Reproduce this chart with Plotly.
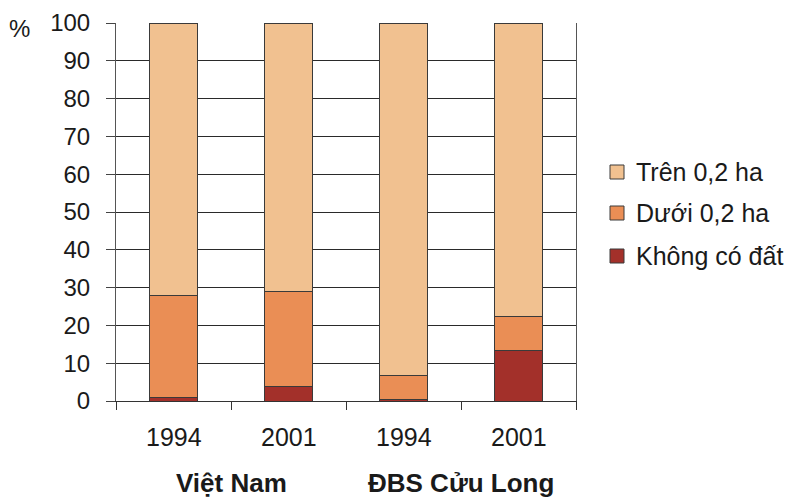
import plotly.graph_objects as go

years = ["1994", "2001", "1994", "2001"]
groups = ["Việt Nam", "ĐBS Cửu Long"]
khong_co_dat = [1.0, 3.8, 0.5, 13.3]
duoi_02 = [27.0, 25.2, 6.2, 9.0]
tren_02 = [72.0, 71.0, 93.3, 77.7]
series_names = ["Không có đất", "Dưới 0,2 ha", "Trên 0,2 ha"]
colors = ["#A3302A", "#EA8E55", "#F1C190"]

x = list(range(len(years)))
FONT = "Liberation Sans, Arial, sans-serif"
TXT = "#1a1a1a"
EDGE = "#3a3a3a"
W, H = 786, 499
ML, MR, MT, MB = 116, 210, 23, 98
PW, PH = W - ML - MR, H - MT - MB

fig = go.Figure()
for name, vals, col in zip(series_names, [khong_co_dat, duoi_02, tren_02], colors):
    fig.add_trace(go.Bar(
        x=x, y=vals, name=name, showlegend=False,
        marker=dict(color=col, line=dict(color=EDGE, width=1)),
        width=0.42,
    ))

fig.update_layout(
    width=W, height=H,
    margin=dict(l=ML, r=MR, t=MT, b=MB, autoexpand=False),
    barmode="stack",
    plot_bgcolor="white", paper_bgcolor="white",
    font=dict(family=FONT, size=24, color=TXT),
    showlegend=False,
    xaxis=dict(
        range=[-0.5, 3.5], tickvals=[-0.5, 0.5, 1.5, 2.5, 3.5],
        showticklabels=False, ticks="outside", ticklen=8, tickcolor="#333",
        showline=True, linecolor="#333", linewidth=1, showgrid=False, zeroline=False,
    ),
    yaxis=dict(
        range=[0, 100], dtick=10, tick0=0,
        ticks="outside", ticklen=9, tickcolor="#444",
        showline=True, linecolor="#555", linewidth=1, mirror=True,
        showgrid=True, gridcolor="#2a2a2a", gridwidth=1, zeroline=False,
        tickfont=dict(size=24, family=FONT, color=TXT),
        ticklabelstandoff=11,
    ),
)

def px_x(p):
    return (p - ML) / PW

def px_y(p):
    return (H - MB - p) / PH

# legend (top to bottom: Trên, Dưới, Không)
legend_y = [172, 213, 256]
for (name, col), ly in zip(list(zip(series_names, colors))[::-1], legend_y):
    fig.add_shape(type="rect", xref="paper", yref="paper",
                  x0=px_x(610), x1=px_x(624), y0=px_y(ly + 7), y1=px_y(ly - 7),
                  fillcolor=col, line=dict(color=EDGE, width=1))
    fig.add_annotation(x=px_x(634), y=px_y(ly), xref="paper", yref="paper",
                       text=name, showarrow=False, xanchor="left", yanchor="middle",
                       font=dict(size=25, family=FONT, color=TXT))

for xi, yr in zip(x, years):
    fig.add_annotation(x=xi, y=px_y(437), xref="x", yref="paper", text=yr,
                       showarrow=False, yanchor="middle",
                       font=dict(size=25, family=FONT, color=TXT))
for gi, g in enumerate(groups):
    fig.add_annotation(x=gi * 2 + 0.5, y=px_y(483), xref="x", yref="paper",
                       text="<b>" + g + "</b>", showarrow=False, yanchor="middle",
                       font=dict(size=26, family=FONT, color=TXT))
fig.add_annotation(x=px_x(19), y=px_y(28), xref="paper", yref="paper",
                   text="%", showarrow=False, xanchor="center", yanchor="middle",
                   font=dict(size=24, family=FONT, color=TXT))

fig.write_html("out.html")
